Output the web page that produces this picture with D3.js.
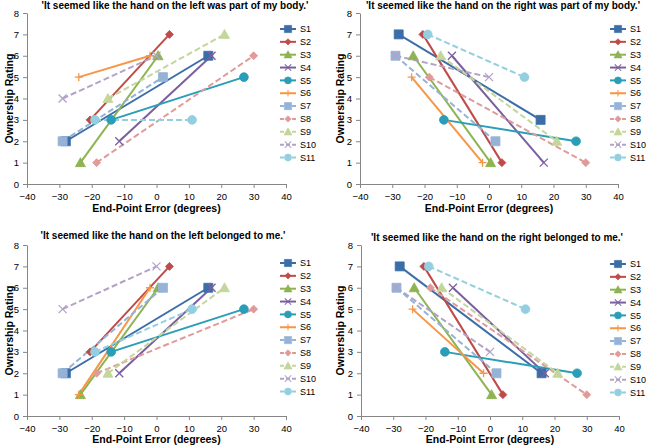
<!DOCTYPE html>
<html>
<head>
<meta charset="utf-8">
<script src="https://cdn.jsdelivr.net/npm/d3@7"></script>
<style>
body{margin:0;background:#fff}
svg{font-family:"Liberation Sans",Arial,sans-serif}
</style>
</head>
<body>
<div id="chart"></div>
<script>
var width = 650
var height = 445

var subjects = ["S1","S2","S3","S4","S5","S6","S7","S8","S9","S10","S11"]
// end-point error (degrees), same per subject in every panel
var errorA = [-28,-20.5,-23.5,-11.5,-14,-24,-29,-18.5,-15,-29,-19]
var errorB = [16,4,0.5,17,27,-2,2,30,21,0,11]

var leftBodyA = [2,3,1,2,3,5,2,1,4,4,3]
var leftBodyB = [6,7,6,6,5,6,5,6,7,6,3]
var rightBodyA = [7,7,6,6,3,5,6,5,6,6,7]
var rightBodyB = [3,1,1,1,2,1,2,1,2,5,5]
var leftBelongA = [2,3,1,2,3,1,2,2,2,5,3]
var leftBelongB = [6,7,6,6,5,6,6,5,6,7,5]
var rightBelongA = [7,7,6,6,3,5,6,6,6,6,7]
var rightBelongB = [2,1,1,2,2,2,2,1,2,3,5]

var titles = ["'It seemed like the hand on the left was part of my body.'",
  "'It seemed like the hand on the right was part of my body.'",
  "'It seemed like the hand on the left belonged to me.'",
  "'It seemed like the hand on the right belonged to me.'"]

var xTicks = [-40,-30,-20,-10,0,10,20,30,40]
var yTicks = [0,1,2,3,4,5,6,7,8]

var colors = ["#3b6ea8","#be4b48","#8db352","#7b5ea0","#2a9db7","#f79646","#95b3d7","#df9b99","#c3d69b","#b3a2c7","#93cfe0"]
var shapes = ["square","diamond","triangle","x","circle","plus","square","diamond","triangle","x","circle"]
var dashed = [false,false,false,false,false,false,true,true,true,true,true]

var panels = [
  {a:leftBodyA,b:leftBodyB,x0:27,x1:286,y0:184,y1:13,title:titles[0],tx:175,ty:9,lx:280,ly:29,ylx:9,xly:212},
  {a:rightBodyA,b:rightBodyB,x0:360,x1:618,y0:184,y1:13,title:titles[1],tx:503,ty:9,lx:610,ly:29,ylx:340,xly:212},
  {a:leftBelongA,b:leftBelongB,x0:27,x1:286,y0:416,y1:245,title:titles[2],tx:163,ty:239,lx:280,ly:263,ylx:9,xly:443},
  {a:rightBelongA,b:rightBelongB,x0:361,x1:619,y0:416,y1:245,title:titles[3],tx:497,ty:241,lx:610,ly:264,ylx:340,xly:443}
]

var svg = d3.select("#chart").append("svg")
  .attr("width",width)
  .attr("height",height)

function markerPath(shape){
  var s = 4.5
  if(shape=="square") return "M"+(-s)+","+(-s)+"h"+(2*s)+"v"+(2*s)+"h"+(-2*s)+"Z"
  if(shape=="diamond") return "M0,-4L4,0L0,4L-4,0Z"
  if(shape=="triangle") return "M0,-5L5,4L-5,4Z"
  if(shape=="circle") return d3.symbol().type(d3.symbolCircle).size(60)()
  if(shape=="x") return "M-4,-4L4,4M-4,4L4,-4"
  if(shape=="plus") return "M-4,0H4M0,-4V4"
}

function drawMarker(g,i,x,y,small){
  var open = shapes[i]=="x" || shapes[i]=="plus"
  var k = small ? 0.8 : 1
  g.append("path")
    .attr("d",markerPath(shapes[i]))
    .attr("transform","translate("+x+","+y+") scale("+k+")")
    .attr("fill",open ? "none" : colors[i])
    .attr("stroke",colors[i])
    .attr("stroke-width",open ? 1.3 : 0.8)
}

function drawPanel(p){
  var g = svg.append("g")
  var xScale = d3.scaleLinear().domain([-40,40]).range([p.x0,p.x1])
  var yScale = d3.scaleLinear().domain([0,8]).range([p.y0,p.y1])

  var xAxis = d3.axisBottom(xScale).tickValues(xTicks).tickSize(4).tickSizeOuter(0)
  var yAxis = d3.axisLeft(yScale).tickValues(yTicks).tickSize(4).tickSizeOuter(0)

  var gx = g.append("g").attr("transform","translate(0,"+p.y0+")").call(xAxis)
  var gy = g.append("g").attr("transform","translate("+p.x0+",0)").call(yAxis)
  ;[gx,gy].forEach(function(ax){
    ax.select(".domain").attr("stroke","#868686")
    ax.selectAll(".tick line").attr("stroke","#868686")
    ax.selectAll(".tick text").attr("fill","#000").style("font-size","9.5px")
  })
  gx.selectAll(".tick text").attr("dy","0.9em")
  gy.selectAll(".tick text").attr("dx","-1px")

  // lines
  for(var i=0;i<subjects.length;i++){
    g.append("line")
      .attr("x1",xScale(errorA[i])).attr("y1",yScale(p.a[i]))
      .attr("x2",xScale(errorB[i])).attr("y2",yScale(p.b[i]))
      .attr("stroke",colors[i])
      .attr("stroke-width",2)
      .attr("stroke-dasharray",dashed[i] ? "6,3" : null)
  }
  for(var i=0;i<subjects.length;i++){
    drawMarker(g,i,xScale(errorA[i]),yScale(p.a[i]))
    drawMarker(g,i,xScale(errorB[i]),yScale(p.b[i]))
  }

  g.append("text")
    .attr("x",p.tx).attr("y",p.ty)
    .attr("text-anchor","middle")
    .style("font-size","10px").style("font-weight","bold")
    .text(p.title)

  g.append("text")
    .attr("x",(p.x0+p.x1)/2).attr("y",p.xly)
    .attr("text-anchor","middle")
    .style("font-size","10.5px").style("font-weight","bold")
    .text("End-Point Error (degrees)")

  g.append("text")
    .attr("transform","translate("+p.ylx+","+((p.y0+p.y1)/2)+") rotate(-90)")
    .attr("text-anchor","middle")
    .attr("dy","0.35em")
    .style("font-size","10.5px").style("font-weight","bold")
    .text("Ownership Rating")

  // legend
  for(var i=0;i<subjects.length;i++){
    var ly = p.ly + i*12.85
    g.append("line")
      .attr("x1",p.lx).attr("x2",p.lx+16)
      .attr("y1",ly).attr("y2",ly)
      .attr("stroke",colors[i]).attr("stroke-width",2)
      .attr("stroke-dasharray",dashed[i] ? "4,2" : null)
    drawMarker(g,i,p.lx+8,ly,true)
    g.append("text")
      .attr("x",p.lx+20).attr("y",ly).attr("dy","0.35em")
      .style("font-size","9px")
      .text(subjects[i])
  }
}

panels.forEach(drawPanel)
</script>
</body>
</html>
